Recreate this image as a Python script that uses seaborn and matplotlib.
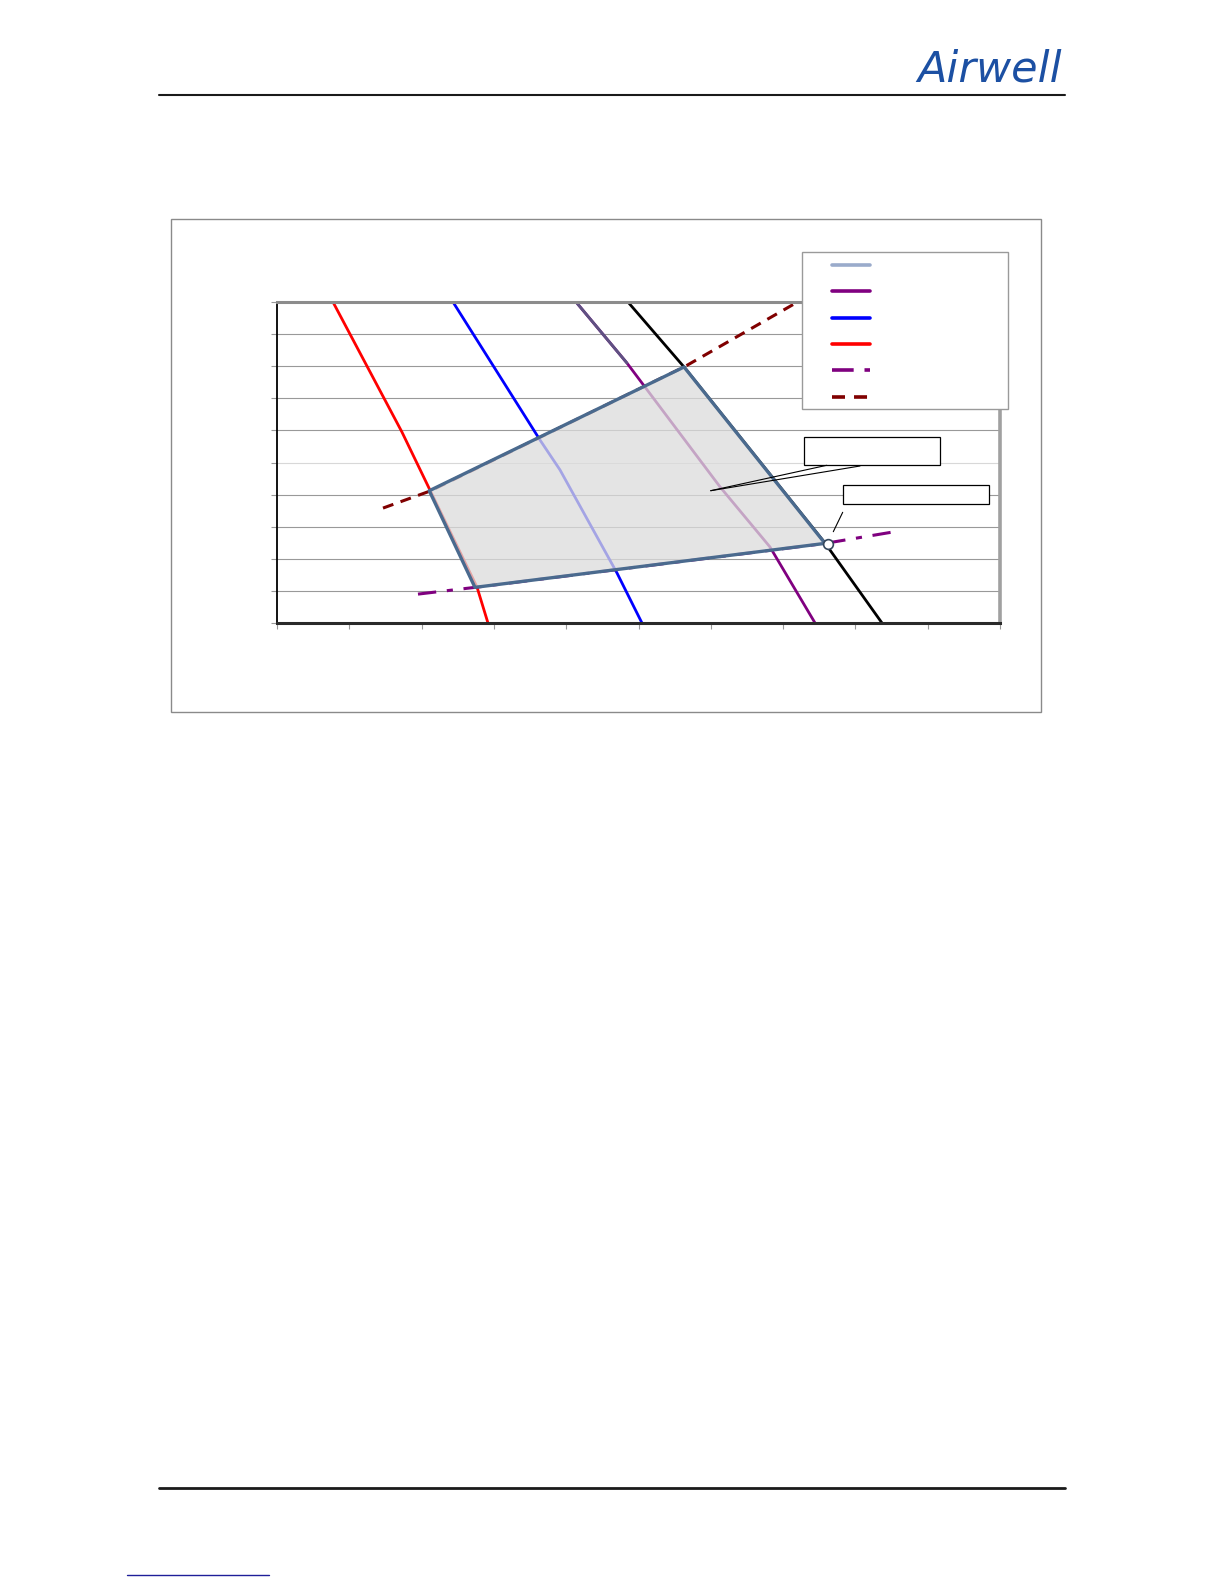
import matplotlib
matplotlib.use("Agg")
import matplotlib.pyplot as plt
import seaborn as sns
import pandas as pd
from matplotlib.lines import Line2D
from matplotlib.patches import Rectangle

# curve data (x = outdoor, y = water temp, unlabelled in source)
red_x = [3.87, 8.64, 10.58, 13.83, 14.59]
red_y = [100, 59.5, 41.4, 11.2, 0]
blue_x = [12.17, 18.19, 19.57, 23.51, 25.24]
blue_y = [100, 57.0, 47.7, 15.6, 0]
purple_x = [20.68, 24.2, 30.64, 34.09, 37.21]
purple_y = [100, 81.0, 42.4, 23.7, 0]
steel_x = [20.68, 24.2]
steel_y = [100, 81.0]
black_x = [24.27, 28.15, 37.9, 41.84]
black_y = [100, 79.75, 24.9, 0]
low_x = [9.75, 13.69, 37.9, 42.53]
low_y = [9.0, 11.1, 24.8, 28.3]
high_x = [7.33, 10.58, 28.15, 36.0]
high_y = [35.8, 41.1, 79.75, 100.0]
zone_x = [28.15, 10.53, 13.69, 37.9]
zone_y = [79.75, 41.2, 11.1, 24.8]
point_x = [38.08]
point_y = [24.6]

x_ticks = list(range(0, 55, 5))
y_ticks = list(range(0, 110, 10))

sns.set_style("white")
W, H = 1224, 1584
fig = plt.figure(figsize=(W / 100, H / 100), dpi=100)


def fx(px):
    return px / W


def fy(py):
    return 1 - py / H


ax = fig.add_axes([fx(277), fy(623), (1000 - 277) / W, (623 - 302) / H])

lw = 2.0
sns.lineplot(x=red_x, y=red_y, sort=False, estimator=None, color="#ff0000", lw=lw, ax=ax)
sns.lineplot(x=blue_x, y=blue_y, sort=False, estimator=None, color="#0000ff", lw=lw, ax=ax)
sns.lineplot(x=purple_x, y=purple_y, sort=False, estimator=None, color="#800080", lw=lw, ax=ax)
sns.lineplot(x=steel_x, y=steel_y, sort=False, estimator=None, color="#5e5282", lw=lw, ax=ax)
sns.lineplot(x=black_x, y=black_y, sort=False, estimator=None, color="#000000", lw=lw, ax=ax)
sns.lineplot(x=low_x, y=low_y, sort=False, estimator=None, color="#7f007f", lw=2.2,
             linestyle=(0, (6, 3.5, 2, 3.5)), ax=ax)
sns.lineplot(x=high_x, y=high_y, sort=False, estimator=None, color="#800000", lw=2.2,
             linestyle=(0, (3.6, 2.5)), ax=ax)

# operating zone
ax.fill(zone_x, zone_y, facecolor="#dcdcdc", alpha=0.75, edgecolor="none", zorder=3)
ax.fill(zone_x, zone_y, facecolor="none", edgecolor="#4a6a8e", lw=2.4, zorder=4,
        joinstyle="round")
ax.plot(point_x, point_y, "o", ms=7, mfc="white", mec="#34475c", mew=1.2, zorder=6)

ax.set_xlim(0, 50)
ax.set_ylim(0, 100)
ax.set_xticks(x_ticks)
ax.set_yticks(y_ticks)
ax.set_xticklabels([])
ax.set_yticklabels([])
ax.yaxis.grid(True, color="#999999", lw=0.8)
ax.xaxis.grid(False)
ax.get_ygridlines()[5].set_color("#d8d8d8")
ax.tick_params(axis="both", which="major", direction="out", length=4, width=0.8,
               color="#999999", bottom=True, left=True)
ax.spines["left"].set_color("black")
ax.spines["left"].set_linewidth(1.3)
ax.spines["bottom"].set_color("#2a2a2a")
ax.spines["bottom"].set_linewidth(2.2)
ax.spines["top"].set_color("#8c8c8c")
ax.spines["top"].set_linewidth(2.2)
ax.spines["right"].set_color("#a0a0a0")
ax.spines["right"].set_linewidth(2.6)

# outer chart frame
fig.add_artist(Rectangle((fx(171), fy(712)), (1041 - 171) / W, (712 - 219) / H,
                         transform=fig.transFigure, fill=False, ec="#8a8a8a", lw=1, zorder=0))

# legend box (no text)
fig.add_artist(Rectangle((fx(802), fy(409)), (1008 - 802) / W, (409 - 252) / H,
                         transform=fig.transFigure, fc="white", ec="#9a9a9a", lw=1, zorder=5))
leg_styles = [
    ("#9aabcb", "-"),
    ("#800080", "-"),
    ("#0000ff", "-"),
    ("#ff0000", "-"),
    ("#7f007f", (0, (6, 3, 2, 0.5))),
    ("#800000", (0, (3.6, 2.5))),
]
for i, (c, ls) in enumerate(leg_styles):
    yy = fy(265 + 26.3 * i)
    fig.add_artist(Line2D([fx(832), fx(870)], [yy, yy], transform=fig.transFigure,
                          color=c, lw=2.6, ls=ls, zorder=6))

# callout boxes
fig.add_artist(Rectangle((fx(804), fy(465)), (940 - 804) / W, (465 - 437) / H,
                         transform=fig.transFigure, fc="white", ec="black", lw=0.9, zorder=5))
for sx, sy in [(826.7, 465.3), (860, 466)]:
    fig.add_artist(Line2D([fx(sx), fx(710.7)], [fy(sy), fy(490.7)],
                          transform=fig.transFigure, color="black", lw=0.8, zorder=5))
fig.add_artist(Rectangle((fx(843), fy(504)), (989 - 843) / W, (504 - 485) / H,
                         transform=fig.transFigure, fc="white", ec="black", lw=0.9, zorder=5))
fig.add_artist(Line2D([fx(842.7), fx(833.3)], [fy(512.3), fy(531.7)],
                      transform=fig.transFigure, color="black", lw=0.8, zorder=5))

# page header / footer
fig.add_artist(Line2D([fx(159), fx(1065)], [fy(95), fy(95)], transform=fig.transFigure,
                      color="#1a1a1a", lw=1.5))
fig.add_artist(Line2D([fx(159), fx(1065)], [fy(1488), fy(1488)], transform=fig.transFigure,
                      color="#1a1a1a", lw=2.0))
fig.add_artist(Line2D([fx(127), fx(269)], [fy(1575), fy(1575)], transform=fig.transFigure,
                      color="#1f1f99", lw=1.0))
fig.text(fx(1062), fy(81), "Airwell", ha="right", va="baseline", fontsize=31,
         style="italic", color="#1c50a3", family="DejaVu Sans")

fig.savefig("out.png", dpi=100, facecolor="white")
